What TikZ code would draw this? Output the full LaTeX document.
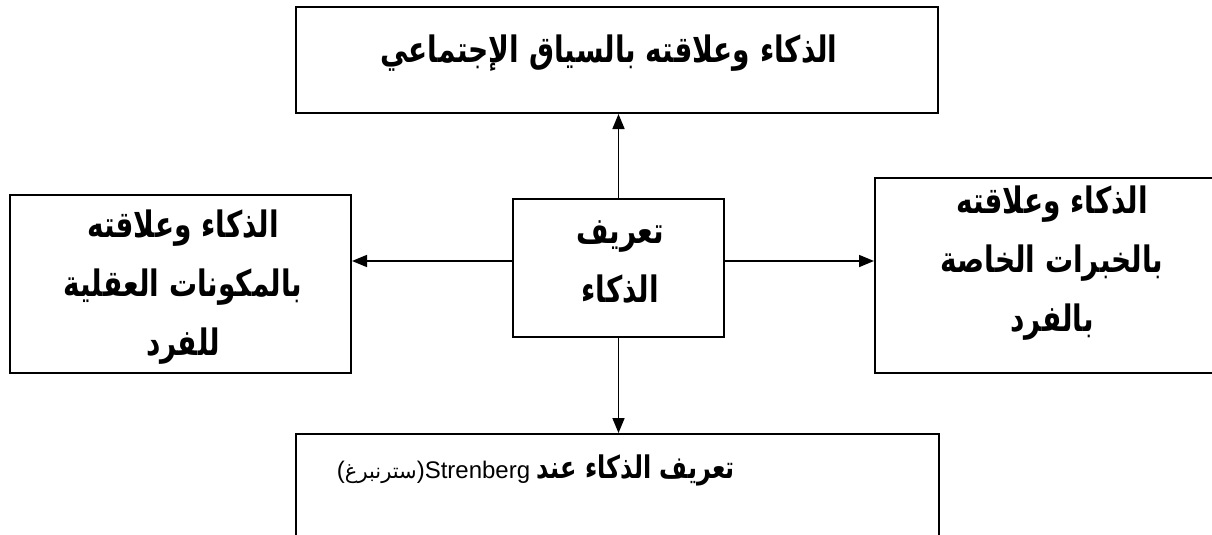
\documentclass[tikz,border=0pt]{standalone}
\usepackage{fontspec}
\setmainfont{Liberation Sans}
\newfontfamily\arabicfont[Script=Arabic]{DejaVu Sans}
\TeXXeTstate=1
\usetikzlibrary{arrows.meta}
% one right-to-left line, stretched upward a little
\newcommand{\rtlline}[1]{\scalebox{1}[1.3]{\beginR #1\endR}}

\begin{document}
\begin{tikzpicture}[x=1pt,y=1pt,
  box/.style={draw=black, line width=2pt, rectangle, inner sep=0pt},
  lbl/.style={font=\arabicfont\bfseries\fontsize{28}{59}\selectfont, align=center, inner sep=0pt},
  link/.style={line width=1.6pt, -{Triangle[length=15pt,width=12pt]}}]
\useasboundingbox (0,0) rectangle (1212,-535);
\clip (0,0) rectangle (1212,-535);

% boxes
\node[box, minimum width=642pt, minimum height=106pt] (top) at (617,-60) {};
\node[box, minimum width=211pt, minimum height=138pt] (mid) at (618.5,-268) {};
\node[box, minimum width=341pt, minimum height=178pt] (left) at (180.5,-284) {};
\node[box, minimum width=350pt, minimum height=195pt] (right) at (1050,-275.5) {};
\node[box, minimum width=643pt, minimum height=160pt] (bottom) at (617.5,-514) {};

% labels
\node[lbl] (toptxt) at (609,-53) {\rtlline{الذكاء وعلاقته بالسياق الإجتماعي}};
\node[lbl] (midtxt) at (620,-262) {\rtlline{تعريف}\\\rtlline{الذكاء}};
\node[lbl] (lefttxt) at (183,-287) {\rtlline{الذكاء وعلاقته}\\\rtlline{بالمكونات العقلية}\\\rtlline{للفرد}};
\node[lbl] (righttxt) at (1052,-263) {\rtlline{الذكاء وعلاقته}\\\rtlline{بالخبرات الخاصة}\\\rtlline{بالفرد}};
\node[inner sep=0pt, font=\fontsize{24}{28}\selectfont] (bottomtxt) at (536,-470)
  {({\arabicfont\fontsize{21}{28}\selectfont\beginR سترنبرغ\endR})Strenberg
   {\arabicfont\bfseries\fontsize{24}{28}\selectfont\rtlline{تعريف الذكاء عند}}};

% connectors
\draw[link] (mid.north) -- (mid.north |- top.south);
\draw[link] (mid.south) -- (mid.south |- bottom.north);
\draw[link] ([yshift=7pt]mid.west) -- ([yshift=7pt]mid.west -| left.east);
\draw[link] ([yshift=7pt]mid.east) -- ([yshift=7pt]mid.east -| right.west);
\end{tikzpicture}
\end{document}
